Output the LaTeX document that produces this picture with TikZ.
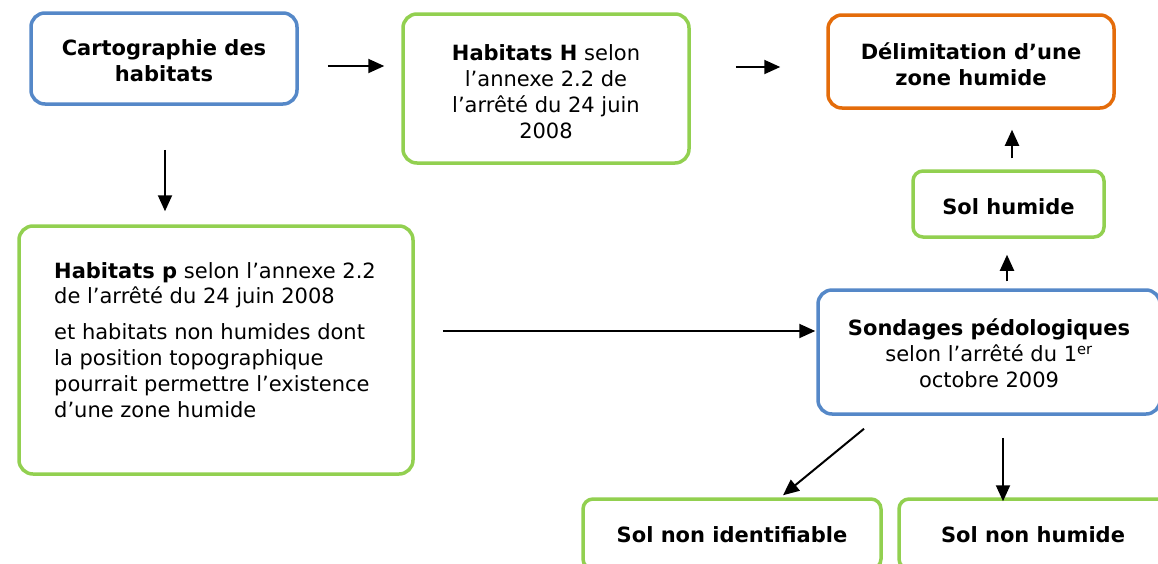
\documentclass[tikz,border=0pt]{standalone}
\usepackage{fontspec}
\setmainfont{DejaVu Sans}
\usetikzlibrary{arrows.meta,calc}
\definecolor{cblue}{HTML}{5588C8}
\definecolor{cgreen}{HTML}{92D050}
\definecolor{corange}{HTML}{E46C0A}
\newcommand\lowerby[1]{\rule{0pt}{#1}}
\tikzset{
  box/.style={draw, line width=3.5pt, rounded corners=14pt, inner sep=0pt, align=center,
    font=\fontsize{21}{26}\selectfont},
  smallbox/.style={box, rounded corners=10pt},
  arr/.style={line width=2pt, -{Triangle[length=16pt,width=14pt]}},
}
\begin{document}
\begin{tikzpicture}[x=1pt,y=-1pt]
\clip (0,0) rectangle (1158,563);
\fill[white] (0,0) rectangle (1158,563);
\node[box, draw=cblue, minimum width=266pt, minimum height=91pt] (carto) at (164,58.5)
  {\lowerby{21pt}\textbf{Cartographie des}\\\textbf{habitats}};
\node[box, draw=cgreen, minimum width=286pt, minimum height=149pt] (habH) at (546,88.5)
  {\lowerby{22pt}\textbf{Habitats H} selon\\l’annexe 2.2 de\\l’arrêté du 24 juin\\2008};
\node[box, draw=corange, minimum width=286pt, minimum height=93pt] (delim) at (971,61.5)
  {\lowerby{22pt}\textbf{Délimitation d’une}\\\textbf{zone humide}};
\node[smallbox, draw=cgreen, minimum width=191pt, minimum height=66pt] (solh) at (1008.5,204)
  {\lowerby{22pt}\textbf{Sol humide}};
\node[box, draw=cgreen, minimum width=394pt, minimum height=248pt] (hp) at (216,350) {};
\node[anchor=north west, inner sep=0pt, align=left, font=\fontsize{21}{25.8}\selectfont] (hptext) at (54,262)
  {\textbf{Habitats p} selon l’annexe 2.2\\de l’arrêté du 24 juin 2008\\[10pt]
   et habitats non humides dont\\la position topographique\\pourrait permettre l’existence\\d’une zone humide};
\node[box, draw=cblue, minimum width=342pt, minimum height=124pt] (sond) at (989,352)
  {\lowerby{20pt}\textbf{Sondages pédologiques}\\selon l’arrêté du 1\textsuperscript{er}\\octobre 2009};
\node[smallbox, draw=cgreen, minimum width=298pt, minimum height=70pt] (solni) at (732,534)
  {\lowerby{18pt}\textbf{Sol non identifiable}};
\node[smallbox, draw=cgreen, minimum width=268pt, minimum height=70pt] (solnh) at (1033,534)
  {\lowerby{18pt}\textbf{Sol non humide}};
\draw[arr] ($(carto.east)+(29,7.5)$) -- ($(habH.west)+(-17,-22.5)$);
\draw[arr] ($(habH.east)+(45,-21.5)$) -- ($(delim.west)+(-46,5.5)$);
\draw[arr] ($(carto.south)+(1,44)$) -- ($(hp.north)+(-51,-13)$);
\draw[arr] ($(hp.east)+(28,-19)$) -- ($(sond.west)+(-1,-21)$);
\draw[arr] ($(sond.north)+(18,-7)$) -- ($(solh.south)+(-1.5,16)$);
\draw[arr] ($(solh.north)+(3.5,-11)$) -- ($(delim.south)+(41,20)$);
\draw[arr] ($(sond.south)+(-125,13)$) -- ($(solni.north)+(51,-2)$);
\draw[arr] ($(sond.south)+(14,22)$) -- ($(solnh.north)+(-30,4)$);
\end{tikzpicture}
\end{document}
